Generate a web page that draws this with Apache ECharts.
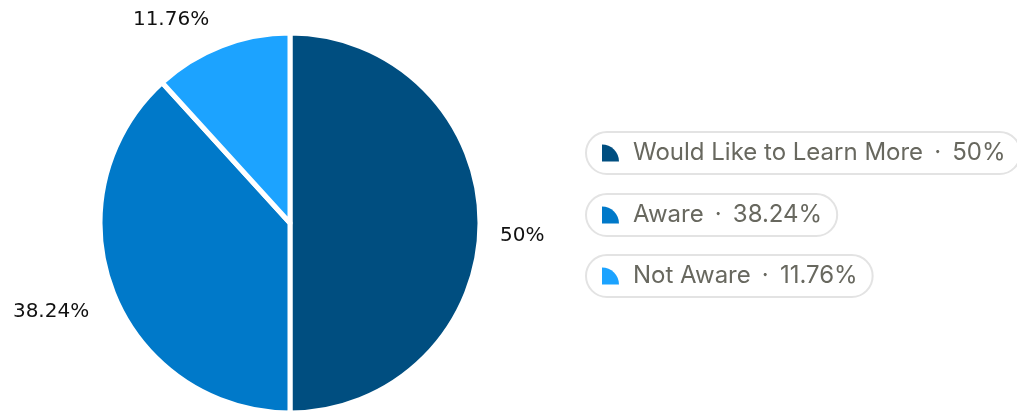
<!DOCTYPE html>
<html>
<head>
<meta charset="utf-8">
<script src="https://cdn.jsdelivr.net/npm/echarts@6/dist/echarts.min.js"></script>
<style>
  html, body { margin: 0; padding: 0; background: #fff; }
  #chart { width: 1017px; height: 413px; }
</style>
</head>
<body>
<div id="chart"></div>
<script>
// Survey answers and their shares (percent)
const categories = ['Would Like to Learn More', 'Aware', 'Not Aware'];
const values = [50, 38.24, 11.76];
const sliceColors = ['#004e80', '#0079c9', '#1ca3ff'];

const PIE_CENTER = [290, 223];
const PIE_RADIUS = 190;
const LABEL_RADIUS = 210;

const total = values.reduce((a, b) => a + b, 0);

// Mid-angle of each slice, clockwise from 12 o'clock
function midAngle(i) {
  let before = 0;
  for (let k = 0; k < i; k++) before += values[k];
  return ((before + values[i] / 2) / total) * Math.PI * 2;
}

const chart = echarts.init(document.getElementById('chart'), null, { renderer: 'canvas' });

// Legend pills
const legendFont = '24px Inter';
const measure = document.createElement('canvas').getContext('2d');
measure.font = legendFont;
const legendTop = [132, 194, 255];
const pillX = 586, pillH = 42, textOffset = 47, padRight = 15;

const legendGraphics = categories.map((name, i) => {
  const text = name + ' \u2009\u00b7\u2009 ' + values[i] + '%';
  const w = textOffset + measure.measureText(text).width + padRight;
  const y = legendTop[i];
  return {
    type: 'group',
    x: pillX,
    y: y,
    children: [
      {
        type: 'rect',
        shape: { x: 0, y: 0, width: w, height: pillH, r: pillH / 2 },
        style: { fill: '#fff', stroke: '#e3e3e3', lineWidth: 2 }
      },
      {
        type: 'sector',
        shape: { cx: 16, cy: 29.5, r0: 0, r: 17, startAngle: -Math.PI / 2, endAngle: 0, clockwise: true },
        style: { fill: sliceColors[i] }
      },
      {
        type: 'text',
        x: textOffset,
        y: pillH / 2,
        style: {
          text: text,
          font: legendFont,
          fill: '#68685f',
          verticalAlign: 'middle',
          align: 'left'
        }
      }
    ]
  };
});

chart.setOption({
  animation: false,
  backgroundColor: '#fff',
  color: sliceColors,
  graphic: legendGraphics,
  series: [{
    type: 'pie',
    center: PIE_CENTER,
    radius: PIE_RADIUS,
    startAngle: 90,
    clockwise: true,
    silent: true,
    data: categories.map((name, i) => ({ name: name, value: values[i] })),
    itemStyle: { borderColor: '#fff', borderWidth: 5 },
    label: {
      show: true,
      position: 'outside',
      overflow: 'none',
      formatter: p => p.value + '%',
      fontFamily: 'DejaVu Sans',
      fontSize: 20,
      color: '#111'
    },
    labelLine: { show: false },
    labelLayout: function (params) {
      const a = midAngle(params.dataIndex);
      const dx = Math.sin(a), dy = -Math.cos(a);
      const leftSide = dx < -1e-6;
      return {
        x: PIE_CENTER[0] + dx * LABEL_RADIUS + (leftSide ? -5 : 0),
        y: PIE_CENTER[1] + dy * LABEL_RADIUS + 3,
        align: leftSide ? 'right' : 'left',
        verticalAlign: dy < -1e-6 ? 'bottom' : 'top'
      };
    }
  }]
});
</script>
</body>
</html>
